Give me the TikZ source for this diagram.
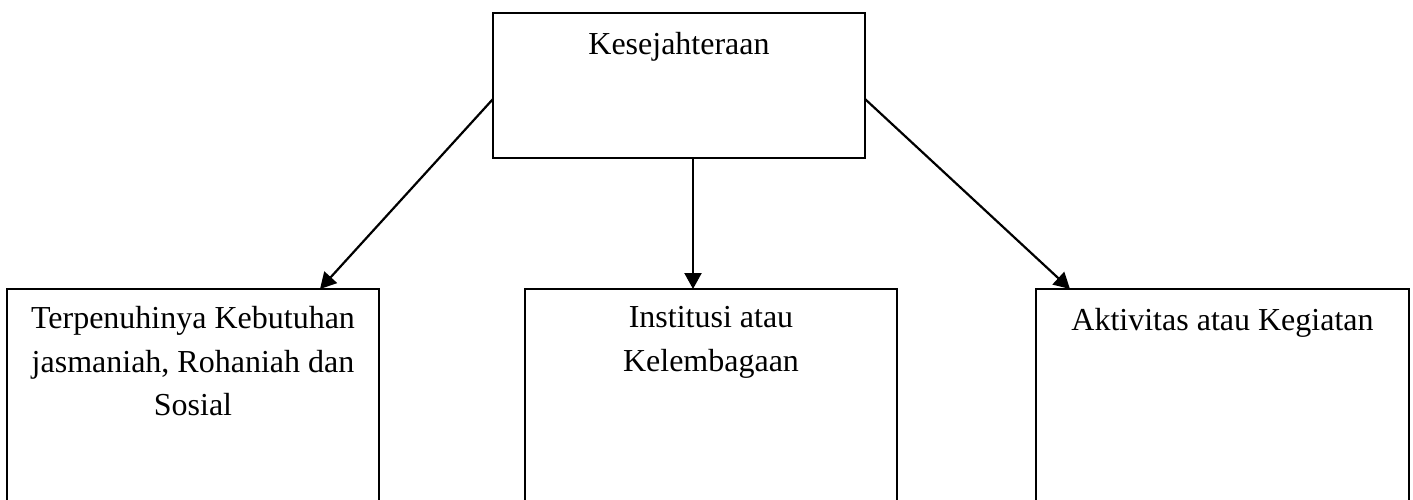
\documentclass[tikz,border=0pt]{standalone}
\usepackage{fontspec}
\setmainfont{Liberation Serif}
\usetikzlibrary{arrows.meta}
\begin{document}
\begin{tikzpicture}[x=1pt,y=-1pt,
  box/.style={draw=black, line width=2.2pt, minimum width=372pt, inner sep=0pt, outer sep=0pt},
  lbl/.style={anchor=north, align=center, inner sep=0pt, font=\fontsize{32}{43.5}\selectfont},
  arr/.style={line width=2.2pt, -{Triangle[length=16pt,width=17pt]}}]
\useasboundingbox (0,0) rectangle (1413,499);
\node[box, minimum height=145pt] (top) at (679,85.5) {};
\node[box, minimum height=260pt] (b1) at (193,419) {};
\node[box, minimum height=260pt] (b2) at (711,419) {};
\node[box, minimum width=373pt, minimum height=260pt] (b3) at (1222.5,419) {};
\node[lbl] (t0) at (679,31.8) {Kesejahteraan};
\node[lbl] (t1) at (193,306.4) {Terpenuhinya Kebutuhan\\jasmaniah, Rohaniah dan\\Sosial};
\node[lbl] (t2) at (711,306.4) {Institusi atau\\Kelembagaan};
\node[lbl] (t3) at (1222.5,308.4) {Aktivitas atau Kegiatan};
\draw[arr] ([yshift=-13.5pt]top.west) -- ([xshift=127pt]b1.north);
\draw[arr] ([xshift=14pt]top.south) -- ([xshift=-18pt]b2.north);
\draw[arr] ([yshift=-13.5pt]top.east) -- ([xshift=-152.5pt]b3.north);
\end{tikzpicture}
\end{document}
